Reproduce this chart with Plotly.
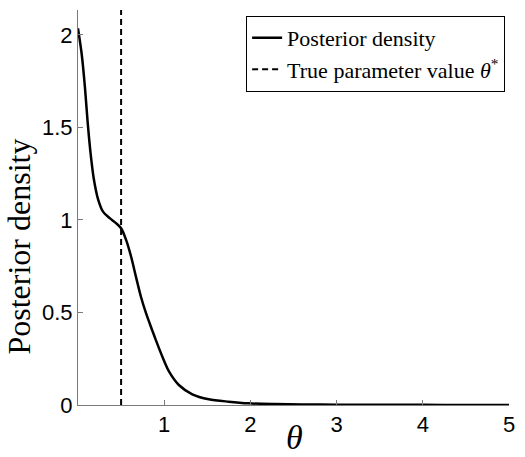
import plotly.graph_objects as go

# Posterior density samples over theta
theta = [0, 0.042, 0.08, 0.11, 0.146, 0.184, 0.234, 0.29, 0.368, 0.444, 0.50, 0.56,
         0.617, 0.674, 0.73, 0.79, 0.86, 0.90, 0.98, 1.057, 1.17, 1.326, 1.517, 1.747,
         1.977, 2.28, 2.6, 3.0, 3.5, 4.0, 4.5, 5.0]
density = [2.036, 1.90, 1.72, 1.54, 1.36, 1.22, 1.11, 1.045, 1.01, 0.982, 0.955, 0.89,
           0.80, 0.69, 0.585, 0.495, 0.405, 0.355, 0.26, 0.18, 0.108, 0.058, 0.031, 0.018,
           0.009, 0.005, 0.003, 0.002, 0.001, 0.0008, 0.0005, 0.0003]

theta_true = 0.5
y_top = 2.135

x_ticks = [1, 2, 3, 4, 5]
y_ticks = [0, 0.5, 1, 1.5, 2]
y_tick_text = ["0", "0.5", "1", "1.5", "2"]

serif = "'Liberation Serif', 'Times New Roman', serif"
sans = "'Liberation Sans', Arial, Helvetica, sans-serif"
axis_grey = "#7a7a7a"

fig = go.Figure()
fig.add_trace(go.Scatter(
    x=theta, y=density, mode="lines", name="Posterior density",
    line=dict(color="black", width=2.5, shape="spline", smoothing=0.8),
))
fig.add_trace(go.Scatter(
    x=[theta_true, theta_true], y=[0, y_top], mode="lines",
    name="True parameter value <i>θ</i><sup>*</sup>",
    line=dict(color="black", width=2, dash="6px,4px"),
))

fig.update_layout(
    width=525, height=457,
    margin=dict(l=78, r=12, t=10, b=52),
    paper_bgcolor="white", plot_bgcolor="white",
    showlegend=True,
    legend=dict(
        x=0.991, y=0.985, xanchor="right", yanchor="top",
        bordercolor="black", borderwidth=1, bgcolor="white",
        font=dict(family=serif, size=22, color="black"),
        tracegroupgap=0, itemwidth=30,
    ),
    xaxis=dict(
        range=[0, 5], tickvals=x_ticks, ticks="inside", ticklen=5,
        tickcolor=axis_grey, showline=True, linecolor=axis_grey, linewidth=1,
        showgrid=False, zeroline=False,
        tickfont=dict(family=sans, size=22, color="black"),
    ),
    yaxis=dict(
        range=[0, y_top], tickvals=y_ticks, ticktext=y_tick_text,
        ticks="inside", ticklen=5,
        tickcolor=axis_grey, showline=True, linecolor=axis_grey, linewidth=1,
        showgrid=False, zeroline=False,
        tickfont=dict(family=sans, size=22, color="black"),
    ),
    annotations=[
        dict(text="<i>θ</i>", xref="paper", yref="paper", x=0.503, y=-0.082,
             xanchor="center", yanchor="middle", showarrow=False,
             font=dict(family=serif, size=34, color="black")),
        dict(text="Posterior density", xref="paper", yref="paper", x=-0.138, y=0.40,
             xanchor="center", yanchor="middle", showarrow=False, textangle=-90,
             font=dict(family=serif, size=32, color="black")),
    ],
)

fig.write_html("out.html")
